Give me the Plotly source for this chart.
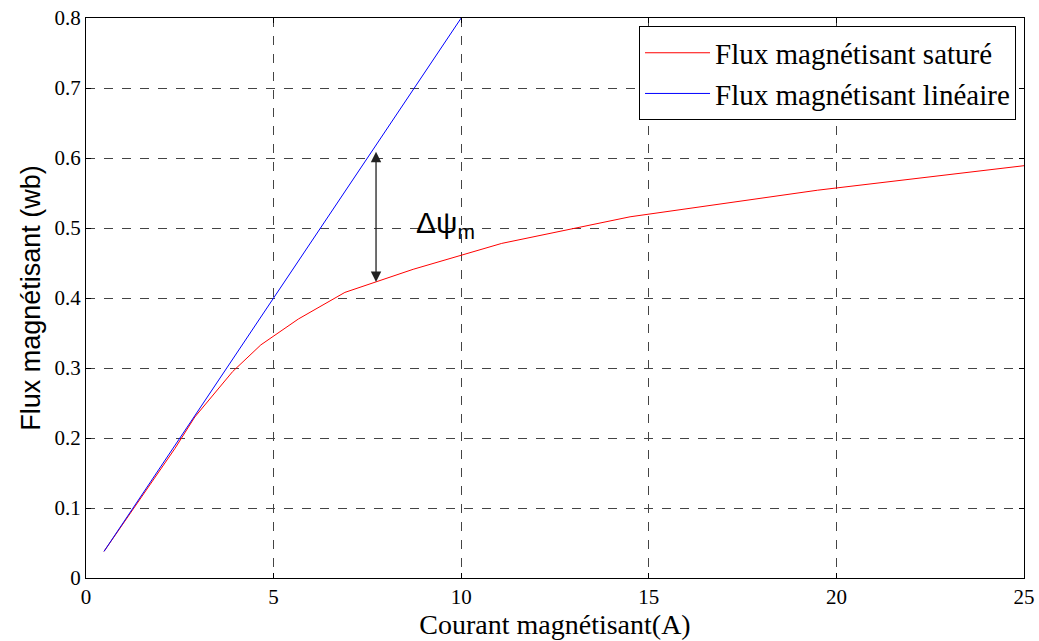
import plotly.graph_objects as go

# Data
sat_x = [0.48, 1.4, 2.37, 2.9, 3.91, 4.66, 5.66, 6.90, 8.72, 11.08, 14.5, 19.5, 25.0]
sat_y = [0.038, 0.110, 0.185, 0.230, 0.295, 0.333, 0.370, 0.408, 0.441, 0.478, 0.516, 0.554, 0.589]
lin_x = [0.48, 2.37, 5.0, 7.5, 10.0]
lin_y = [0.038, 0.190, 0.400, 0.600, 0.800]
x_ticks = [0, 5, 10, 15, 20, 25]
y_ticks = [0, 0.1, 0.2, 0.3, 0.4, 0.5, 0.6, 0.7, 0.8]
y_tick_text = ["0", "0.1", "0.2", "0.3", "0.4", "0.5", "0.6", "0.7", "0.8"]
arrow_x = 7.73
arrow_y = [0.423, 0.611]

serif = "Liberation Serif, Times New Roman, serif"
sans = "Liberation Sans, Arial, sans-serif"

fig = go.Figure()
fig.add_trace(go.Scatter(x=sat_x, y=sat_y, mode="lines", name="Flux magnétisant saturé",
                         line=dict(color="#ff0000", width=1)))
fig.add_trace(go.Scatter(x=lin_x, y=lin_y, mode="lines", name="Flux magnétisant linéaire",
                         line=dict(color="#0000ff", width=1)))

# double-headed arrow
fig.add_annotation(x=arrow_x, y=arrow_y[0], ax=arrow_x, ay=arrow_y[1],
                   xref="x", yref="y", axref="x", ayref="y",
                   text="", showarrow=True, arrowhead=2, startarrowhead=2,
                   arrowside="end+start", arrowsize=1.6, startarrowsize=1.6,
                   arrowwidth=1.3, arrowcolor="#222222")
fig.add_annotation(x=8.75, y=0.505, xref="x", yref="y", xanchor="left", yanchor="middle",
                   text="Δψ<sub>m</sub>", showarrow=False,
                   font=dict(family=sans, size=30, color="black"))

axis_common = dict(showline=True, linecolor="black", linewidth=1, mirror="ticks",
                   ticks="inside", ticklen=5, tickcolor="black", automargin=False,
                   showgrid=True, gridcolor="#444444", griddash="dash", gridwidth=1,
                   zeroline=False, tickfont=dict(family=serif, size=21, color="black"))

fig.update_xaxes(range=[0, 25], tickvals=x_ticks,
                 title=dict(text="Courant magnétisant(A)", font=dict(family=serif, size=28, color="black"),
                            standoff=2),
                 **axis_common)
fig.update_yaxes(range=[0, 0.8], tickvals=y_ticks, ticktext=y_tick_text,
                 title=dict(text="Flux magnétisant (wb)", font=dict(family=sans, size=27, color="black"),
                            standoff=6),
                 **axis_common)

fig.update_layout(
    width=1039, height=641,
    margin=dict(l=86, r=15, t=18, b=63),
    paper_bgcolor="white", plot_bgcolor="white",
    showlegend=True,
    legend=dict(x=0.9915, y=0.985, xanchor="right", yanchor="top",
                bgcolor="white", bordercolor="black", borderwidth=1,
                font=dict(family=serif, size=29, color="black"),
                tracegroupgap=0, itemwidth=65),
)

fig.write_html("out.html")
